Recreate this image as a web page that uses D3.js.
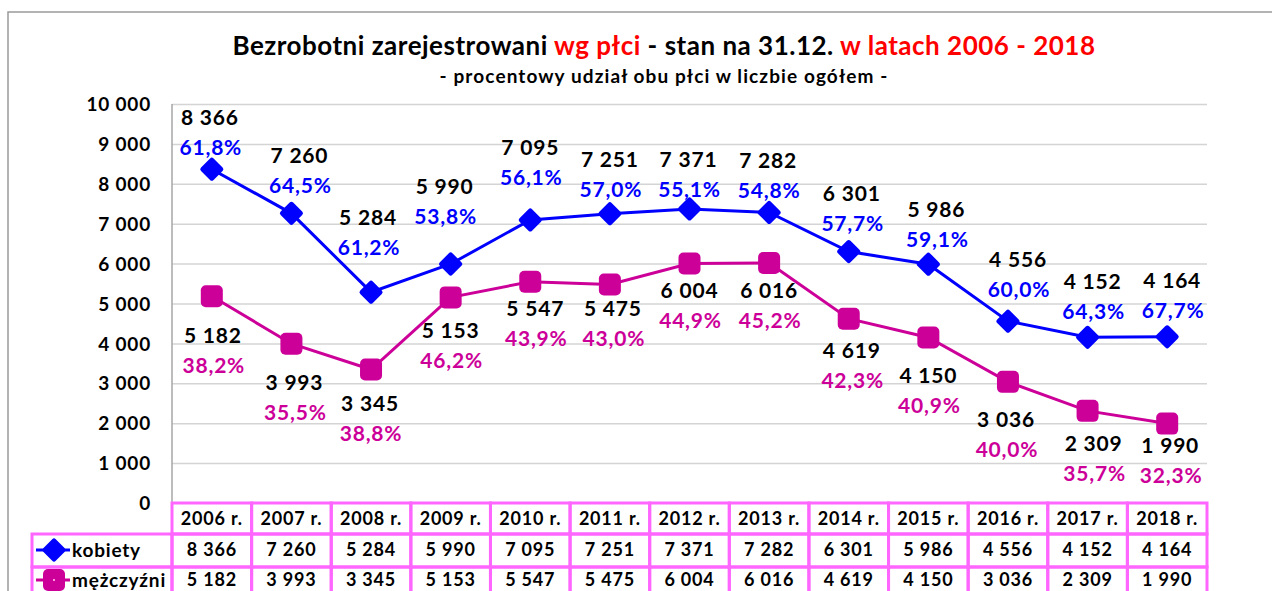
<!DOCTYPE html>
<html lang="pl">
<head>
<meta charset="UTF-8">
<title>Bezrobotni zarejestrowani wg płci</title>
<script src="https://d3js.org/d3.v7.min.js"></script>
<style>
    body { margin: 0; background: #fff; font-family: Lato, "Open Sans", sans-serif; }
    svg text { font-weight: bold; letter-spacing: 0.8px; }
</style>
</head>
<body>
<div id="chart"></div>
<script>
    const years = ["2006 r.", "2007 r.", "2008 r.", "2009 r.", "2010 r.", "2011 r.", "2012 r.",
                   "2013 r.", "2014 r.", "2015 r.", "2016 r.", "2017 r.", "2018 r."];
    const kobiety = [8366, 7260, 5284, 5990, 7095, 7251, 7371, 7282, 6301, 5986, 4556, 4152, 4164];
    const mezczyzni = [5182, 3993, 3345, 5153, 5547, 5475, 6004, 6016, 4619, 4150, 3036, 2309, 1990];
    const pctKobiety = ["61,8%", "64,5%", "61,2%", "53,8%", "56,1%", "57,0%", "55,1%",
                        "54,8%", "57,7%", "59,1%", "60,0%", "64,3%", "67,7%"];
    const pctMezczyzni = ["38,2%", "35,5%", "38,8%", "46,2%", "43,9%", "43,0%", "44,9%",
                          "45,2%", "42,3%", "40,9%", "40,0%", "35,7%", "32,3%"];
    const yTicks = [0, 1000, 2000, 3000, 4000, 5000, 6000, 7000, 8000, 9000, 10000];

    // label placement relative to marker (hand-moved in the original)
    const labelDxK = [-2, 8, -3, -6, 0, 0, -1, -1, 3, 8, 10, 5, 5];
    const labelDyK = [-52, -58, -75, -78, -72, -54, -49, -52, -58, -55, -62, -56, -56];
    const labelDxM = [1, 3, -1, 0, 5, 3, 0, 0, 3, 0, -2, 6, 3];
    const labelDyM = [39, 39, 34, 33, 27, 24, 27, 27, 32, 38, 38, 33, 22];

    const width = 1272, height = 591;
    const plot = { left: 172, right: 1207, top: 104, bottom: 503 };
    const blue = "#0000ff", magenta = "#cc0099", pink = "#ff66ff";

    const loc = d3.formatLocale({ decimal: ",", thousands: "\u00a0", grouping: [3], currency: ["", ""] });
    const fmt = loc.format(",d");

    const svg = d3.select("#chart").append("svg")
        .attr("width", width).attr("height", height);

    // outer chart frame
    svg.append("path")
        .attr("d", `M8,${height} V12 H${width}`)
        .attr("fill", "none").attr("stroke", "#9a9a9a").attr("stroke-width", 1.5);

    const x = d3.scaleBand().domain(years).range([plot.left, plot.right]).padding(0);
    const cx = d => x(d) + x.bandwidth() / 2;
    const y = d3.scaleLinear().domain([0, 10000]).range([plot.bottom, plot.top]);

    // title
    const title = svg.append("text").attr("x", 664).attr("y", 55)
        .attr("text-anchor", "middle").style("font-size", "26px").style("letter-spacing", "0.5px");
    title.append("tspan").attr("fill", "#000").text("Bezrobotni zarejestrowani ");
    title.append("tspan").attr("fill", "#ff0000").text("wg płci");
    title.append("tspan").attr("fill", "#000").text(" - stan na 31.12. ");
    title.append("tspan").attr("fill", "#ff0000").text("w latach 2006 - 2018");

    svg.append("text").attr("x", 664).attr("y", 83)
        .attr("text-anchor", "middle").style("font-size", "19px").style("letter-spacing", "1.1px")
        .text("- procentowy udział obu płci w liczbie ogółem -");

    // gridlines
    svg.append("g")
        .attr("transform", `translate(${plot.left},0)`)
        .call(d3.axisLeft(y).tickValues(yTicks.slice(1)).tickSize(-(plot.right - plot.left)).tickFormat(""))
        .call(g => g.select(".domain").remove())
        .call(g => g.selectAll("line").attr("stroke", "#d4d4d4").attr("stroke-width", 1.5));

    svg.append("line")
        .attr("x1", plot.left).attr("x2", plot.left)
        .attr("y1", plot.top).attr("y2", plot.bottom)
        .attr("stroke", "#a6a6a6").attr("stroke-width", 1.5);

    // y axis labels
    svg.append("g")
        .attr("transform", "translate(151,0)")
        .call(d3.axisLeft(y).tickValues(yTicks).tickSize(0).tickFormat(fmt))
        .call(g => g.select(".domain").remove())
        .call(g => g.selectAll("text")
            .attr("x", 0).attr("dy", "0.35em")
            .style("font-size", "19px").style("font-family", "Lato, sans-serif").attr("fill", "#000"));

    // lines
    const line = d3.line().x((d, i) => cx(years[i])).y(d => y(d));
    svg.append("path").datum(mezczyzni).attr("d", line)
        .attr("fill", "none").attr("stroke", magenta).attr("stroke-width", 3);
    svg.append("path").datum(kobiety).attr("d", line)
        .attr("fill", "none").attr("stroke", blue).attr("stroke-width", 3);

    const diamond = "M0,-9 L9,0 L0,9 L-9,0 Z";

    svg.append("g").selectAll("rect")
        .data(mezczyzni).join("rect")
        .attr("x", (d, i) => cx(years[i]) - 11)
        .attr("y", d => y(d) - 11)
        .attr("width", 22).attr("height", 22).attr("rx", 5)
        .attr("fill", magenta);

    svg.append("g").selectAll("path")
        .data(kobiety).join("path")
        .attr("d", diamond)
        .attr("transform", (d, i) => `translate(${cx(years[i])},${y(d)})`)
        .attr("fill", blue).attr("stroke", blue)
        .attr("stroke-width", 5).attr("stroke-linejoin", "round");

    // data labels
    function labels(values, pcts, dxs, dys, color) {
        const g = svg.append("g").style("font-size", "21px").attr("text-anchor", "middle");
        values.forEach((v, i) => {
            const lx = cx(years[i]) + dxs[i];
            const ly = y(v) + dys[i];
            g.append("text").attr("x", lx).attr("y", ly).attr("dy", "0.36em")
                .attr("fill", "#000").text(fmt(v));
            g.append("text").attr("x", lx + 1).attr("y", ly + 30).attr("dy", "0.36em")
                .attr("fill", color).text(pcts[i]);
        });
    }
    labels(kobiety, pctKobiety, labelDxK, labelDyK, blue);
    labels(mezczyzni, pctMezczyzni, labelDxM, labelDyM, magenta);

    // data table
    const rows = [
        { top: 503, bottom: 534, text: 519 },
        { top: 534, bottom: 567, text: 550 },
        { top: 567, bottom: 596, text: 580 }
    ];
    const table = svg.append("g");
    const tableLeft = 32;

    rows.forEach((r, ri) => {
        years.forEach(yr => {
            table.append("rect")
                .attr("x", x(yr)).attr("y", r.top)
                .attr("width", x.bandwidth()).attr("height", r.bottom - r.top)
                .attr("fill", "none").attr("stroke", pink).attr("stroke-width", 3);
        });
        if (ri > 0) {
            table.append("rect")
                .attr("x", tableLeft).attr("y", r.top)
                .attr("width", plot.left - tableLeft).attr("height", r.bottom - r.top)
                .attr("fill", "none").attr("stroke", pink).attr("stroke-width", 3);
        }
    });

    const cellText = (yr, row, txt) => table.append("text")
        .attr("x", cx(yr)).attr("y", rows[row].text)
        .attr("dy", "0.36em").attr("text-anchor", "middle")
        .style("font-size", "18px").attr("fill", "#000").text(txt);

    years.forEach((yr, i) => {
        cellText(yr, 0, yr);
        cellText(yr, 1, fmt(kobiety[i]));
        cellText(yr, 2, fmt(mezczyzni[i]));
    });

    // legend keys
    const k1 = rows[1].text;
    const k2 = rows[2].text;
    table.append("line").attr("x1", 36).attr("x2", 70).attr("y1", k1).attr("y2", k1)
        .attr("stroke", blue).attr("stroke-width", 3);
    table.append("path").attr("d", diamond).attr("transform", `translate(54,${k1})`)
        .attr("fill", blue).attr("stroke", blue).attr("stroke-width", 5).attr("stroke-linejoin", "round");
    table.append("line").attr("x1", 36).attr("x2", 70).attr("y1", k2).attr("y2", k2)
        .attr("stroke", magenta).attr("stroke-width", 3);
    table.append("rect").attr("x", 43).attr("y", k2 - 11).attr("width", 22).attr("height", 22)
        .attr("rx", 5).attr("fill", magenta);
    table.append("rect").attr("x", 53).attr("y", k2 - 1).attr("width", 2).attr("height", 2)
        .attr("fill", "#ff99dd");
    table.append("text").attr("x", 72).attr("y", k1).attr("dy", "0.36em")
        .style("font-size", "19px").attr("fill", "#000").text("kobiety");
    table.append("text").attr("x", 72).attr("y", k2).attr("dy", "0.36em")
        .style("font-size", "19px").attr("fill", "#000").text("mężczyźni");
</script>
</body>
</html>
